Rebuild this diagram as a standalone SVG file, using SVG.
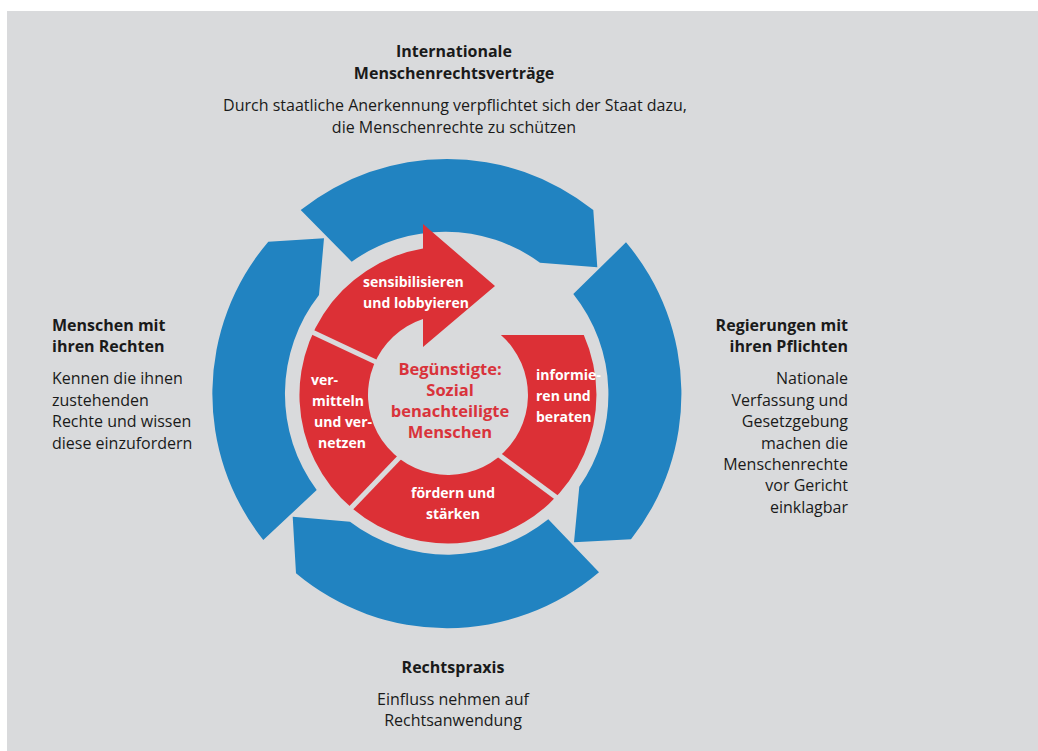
<svg xmlns="http://www.w3.org/2000/svg" width="1038" height="751" viewBox="0 0 1038 751">
<style>
.bg{fill:#d9dadc}
.blue{fill:#2183c1}
.red{fill:#dc3036}
.sep{stroke:#d9dadc;stroke-width:5;fill:none}
.h{font-family:"Open Sans","Liberation Sans",sans-serif;font-weight:700;font-size:16px;fill:#1a1a1a}
.b{font-family:"Open Sans","Liberation Sans",sans-serif;font-size:16px;fill:#1a1a1a}
.w{font-family:"Open Sans","Liberation Sans",sans-serif;font-weight:700;font-size:14px;fill:#ffffff}
.c{font-family:"Open Sans","Liberation Sans",sans-serif;font-weight:700;font-size:16.5px;fill:#d9333b}
</style>
<rect x="0" y="0" width="1038" height="751" fill="#ffffff"/>
<rect class="bg" x="7" y="11" width="1031" height="740"/>

<g id="connectors">
  <g id="arrow-top"><path class="blue" d="M 300.7,210 A 235 235 0 0 1 593.3,210 L 597.3,267.3 L 540,262.7 A 161 161 0 0 0 351.7,261.7 Z"/></g>
  <g id="arrow-right"><path class="blue" d="M 626,242.3 A 235 235 0 0 1 631,539.3 L 574,542.3 L 579.3,486.7 A 161 161 0 0 0 573.3,294 Z"/></g>
  <g id="arrow-bottom"><path class="blue" d="M 599,572.3 A 235 235 0 0 1 296,573.3 L 292.7,516.7 L 350,521.7 A 161 161 0 0 0 548.3,519.3 Z"/></g>
  <g id="arrow-left"><path class="blue" d="M 263.3,540 A 235 235 0 0 1 268.3,241.7 L 324,238.3 L 319,295 A 161 161 0 0 0 316.7,490 Z"/></g>
</g>

<g id="red-ring">
  <path class="red" d="M 583.8,335 A 148.5 148.5 0 1 1 423,248.6 L 423,224 L 495,286 L 423,347 L 423,319 A 80 80 0 1 0 500.9,335 Z"/>
  <line class="sep" x1="306.8" y1="329.6" x2="381.2" y2="364.4"/>
  <line class="sep" x1="347.9" y1="511.3" x2="402.5" y2="454.2"/>
  <line class="sep" x1="495" y1="452" x2="557.8" y2="498.6"/>
</g>

<g id="node-sensibilisieren">
  <text class="w" x="363" y="287">sensibilisieren</text>
  <text class="w" x="363" y="308">und lobbyieren</text>
</g>
<g id="node-informieren">
  <text class="w" x="536" y="380">informie-</text>
  <text class="w" x="536" y="401">ren und</text>
  <text class="w" x="536" y="422">beraten</text>
</g>
<g id="node-foerdern">
  <text class="w" x="453" y="498" text-anchor="middle">fördern und</text>
  <text class="w" x="453" y="519" text-anchor="middle">stärken</text>
</g>
<g id="node-vermitteln">
  <text class="w" x="311" y="385">ver-</text>
  <text class="w" x="312" y="406">mitteln</text>
  <text class="w" x="314" y="427">und ver-</text>
  <text class="w" x="318" y="448">netzen</text>
</g>
<g id="node-center">
  <text class="c" x="450" y="375" text-anchor="middle">Begünstigte:</text>
  <text class="c" x="450" y="396" text-anchor="middle">Sozial</text>
  <text class="c" x="450" y="417" text-anchor="middle">benachteiligte</text>
  <text class="c" x="450" y="438" text-anchor="middle">Menschen</text>
</g>

<g id="node-international">
  <text class="h" x="454" y="57" text-anchor="middle">Internationale</text>
  <text class="h" x="454" y="79" text-anchor="middle">Menschenrechtsverträge</text>
  <text class="b" x="455" y="111" text-anchor="middle">Durch staatliche Anerkennung verpflichtet sich der Staat dazu,</text>
  <text class="b" x="454" y="133" text-anchor="middle">die Menschenrechte zu schützen</text>
</g>
<g id="node-regierungen">
  <text class="h" x="848" y="331" text-anchor="end">Regierungen mit</text>
  <text class="h" x="848" y="352" text-anchor="end">ihren Pflichten</text>
  <text class="b" x="848" y="384" text-anchor="end">Nationale</text>
  <text class="b" x="848" y="406" text-anchor="end">Verfassung und</text>
  <text class="b" x="848" y="427" text-anchor="end">Gesetzgebung</text>
  <text class="b" x="848" y="449" text-anchor="end">machen die</text>
  <text class="b" x="848" y="470" text-anchor="end">Menschenrechte</text>
  <text class="b" x="848" y="491" text-anchor="end">vor Gericht</text>
  <text class="b" x="848" y="513" text-anchor="end">einklagbar</text>
</g>
<g id="node-menschen">
  <text class="h" x="52" y="331">Menschen mit</text>
  <text class="h" x="52" y="352">ihren Rechten</text>
  <text class="b" x="52" y="384">Kennen die ihnen</text>
  <text class="b" x="52" y="406">zustehenden</text>
  <text class="b" x="52" y="427">Rechte und wissen</text>
  <text class="b" x="52" y="449">diese einzufordern</text>
</g>
<g id="node-rechtspraxis">
  <text class="h" x="453" y="673" text-anchor="middle">Rechtspraxis</text>
  <text class="b" x="453" y="705" text-anchor="middle">Einfluss nehmen auf</text>
  <text class="b" x="453" y="726" text-anchor="middle">Rechtsanwendung</text>
</g>
</svg>
